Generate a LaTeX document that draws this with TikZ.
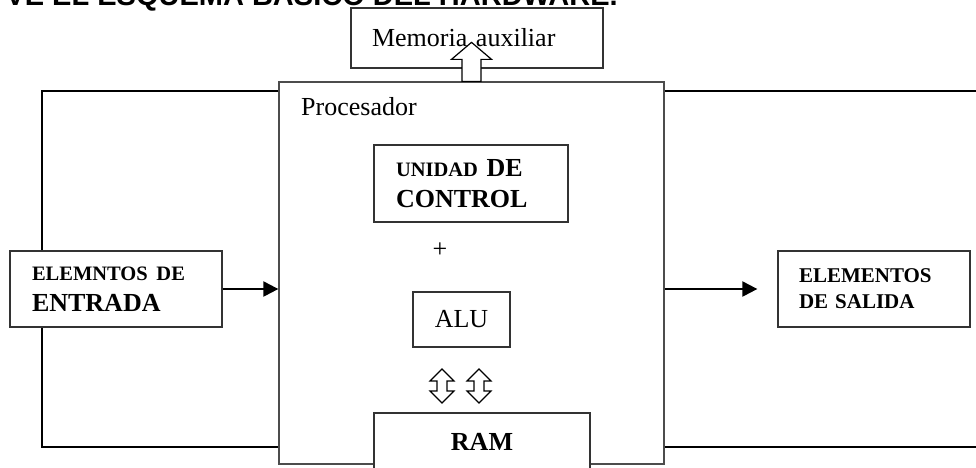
\documentclass[tikz,border=0pt]{standalone}
\usepackage{fontspec}
\setmainfont{Liberation Serif}
\newfontfamily\titlefont{Liberation Sans}
\usetikzlibrary{arrows.meta, positioning}
\newcommand{\smtxt}[1]{{\fontsize{20.5}{25}\selectfont #1}}

\begin{document}
\begin{tikzpicture}[
  x=1pt, y=-1pt,
  box/.style={draw=black!80, line width=1.3pt, fill=white, inner sep=0pt},
  loopline/.style={black, line width=2.4pt},
  flow/.style={black, line width=2.2pt, -{Triangle[length=15pt, width=15pt]}},
  hollow/.style={draw=black, line width=1.2pt, fill=white, line join=miter},
  big/.style={font=\fontsize{26}{31}\selectfont},
  bigbf/.style={font=\fontsize{26}{31}\selectfont\bfseries},
  smallbf/.style={font=\fontsize{21}{26}\selectfont\bfseries},
  pics/uparrow/.style={code={
    \draw[hollow] (-9.5,0) -- (-9.5,-22) -- (-20,-22) -- (0,-39) -- (20,-22) -- (9.5,-22) -- (9.5,0) -- cycle;
  }},
  pics/busarrow/.style={code={
    \draw[hollow] (0,-17) -- (12,-5) -- (5,-5) -- (5,5) -- (12,5) -- (0,17)
                  -- (-12,5) -- (-5,5) -- (-5,-5) -- (-12,-5) -- cycle;
  }},
]
  \clip (0,0) rectangle (976,467);

  % ── title (cut at the top) ──
  \node[anchor=base east, inner sep=0pt,
        font=\titlefont\bfseries\fontsize{29}{34}\selectfont] (title) at (618,5)
        {VE EL ESQUEMA BASICO DEL HARDWARE.};

  % ── Processor ──
  \node[box, draw=black!70, minimum width=385pt, minimum height=382pt] (proc) at (471.5,273) {};
  \node[big, anchor=base west, inner sep=0pt] (proclabel) at (301,115) {Procesador};

  % ── outer loop ──
  \draw[loopline] (proc.west |- 0,91) -| (42,447) -- (proc.west |- 0,447);
  \draw[loopline] (proc.east |- 0,91) -- (976,91);
  \draw[loopline] (proc.east |- 0,447) -- (976,447);

  % ── Memoria auxiliar ──
  \node[box, big, minimum width=252pt, minimum height=60pt, text width=210pt,
        inner xsep=21pt, align=left] (mem) at (477,38) {Memoria auxiliar};
  \pic at (proc.north) {uparrow};

  % ── inside the processor ──
  \node[box, bigbf, minimum width=194pt, minimum height=77pt, text width=150pt,
        inner xsep=22pt, align=left] (uc) at (471,183.5) {\smtxt{UNIDAD} DE\\CONTROL};
  \node[big] (plus) at (440,250) {+};
  \node[box, big, minimum width=97pt, minimum height=55pt] (alu) at (461.5,319.5) {ALU};
  \node[box, bigbf, minimum width=216pt, minimum height=57pt] (ram) at (482,441.5) {RAM};
  \pic at (442,386) {busarrow};
  \pic at (479,386) {busarrow};

  % ── input / output ──
  \node[box, bigbf, minimum width=212pt, minimum height=76pt, text width=168pt,
        inner xsep=22pt, align=left] (entrada) at (116,289) {\smtxt{ELEMNTOS DE}\\ENTRADA};
  \node[box, smallbf, minimum width=192pt, minimum height=76pt, text width=150pt,
        inner xsep=21pt, align=left] (salida) at (874,289) {ELEMENTOS\\DE SALIDA};

  \draw[flow] (entrada.east) -- (entrada.east -| proc.west);
  \draw[flow, shorten >=20pt] (proc.east |- salida.west) -- (salida.west);
\end{tikzpicture}
\end{document}
